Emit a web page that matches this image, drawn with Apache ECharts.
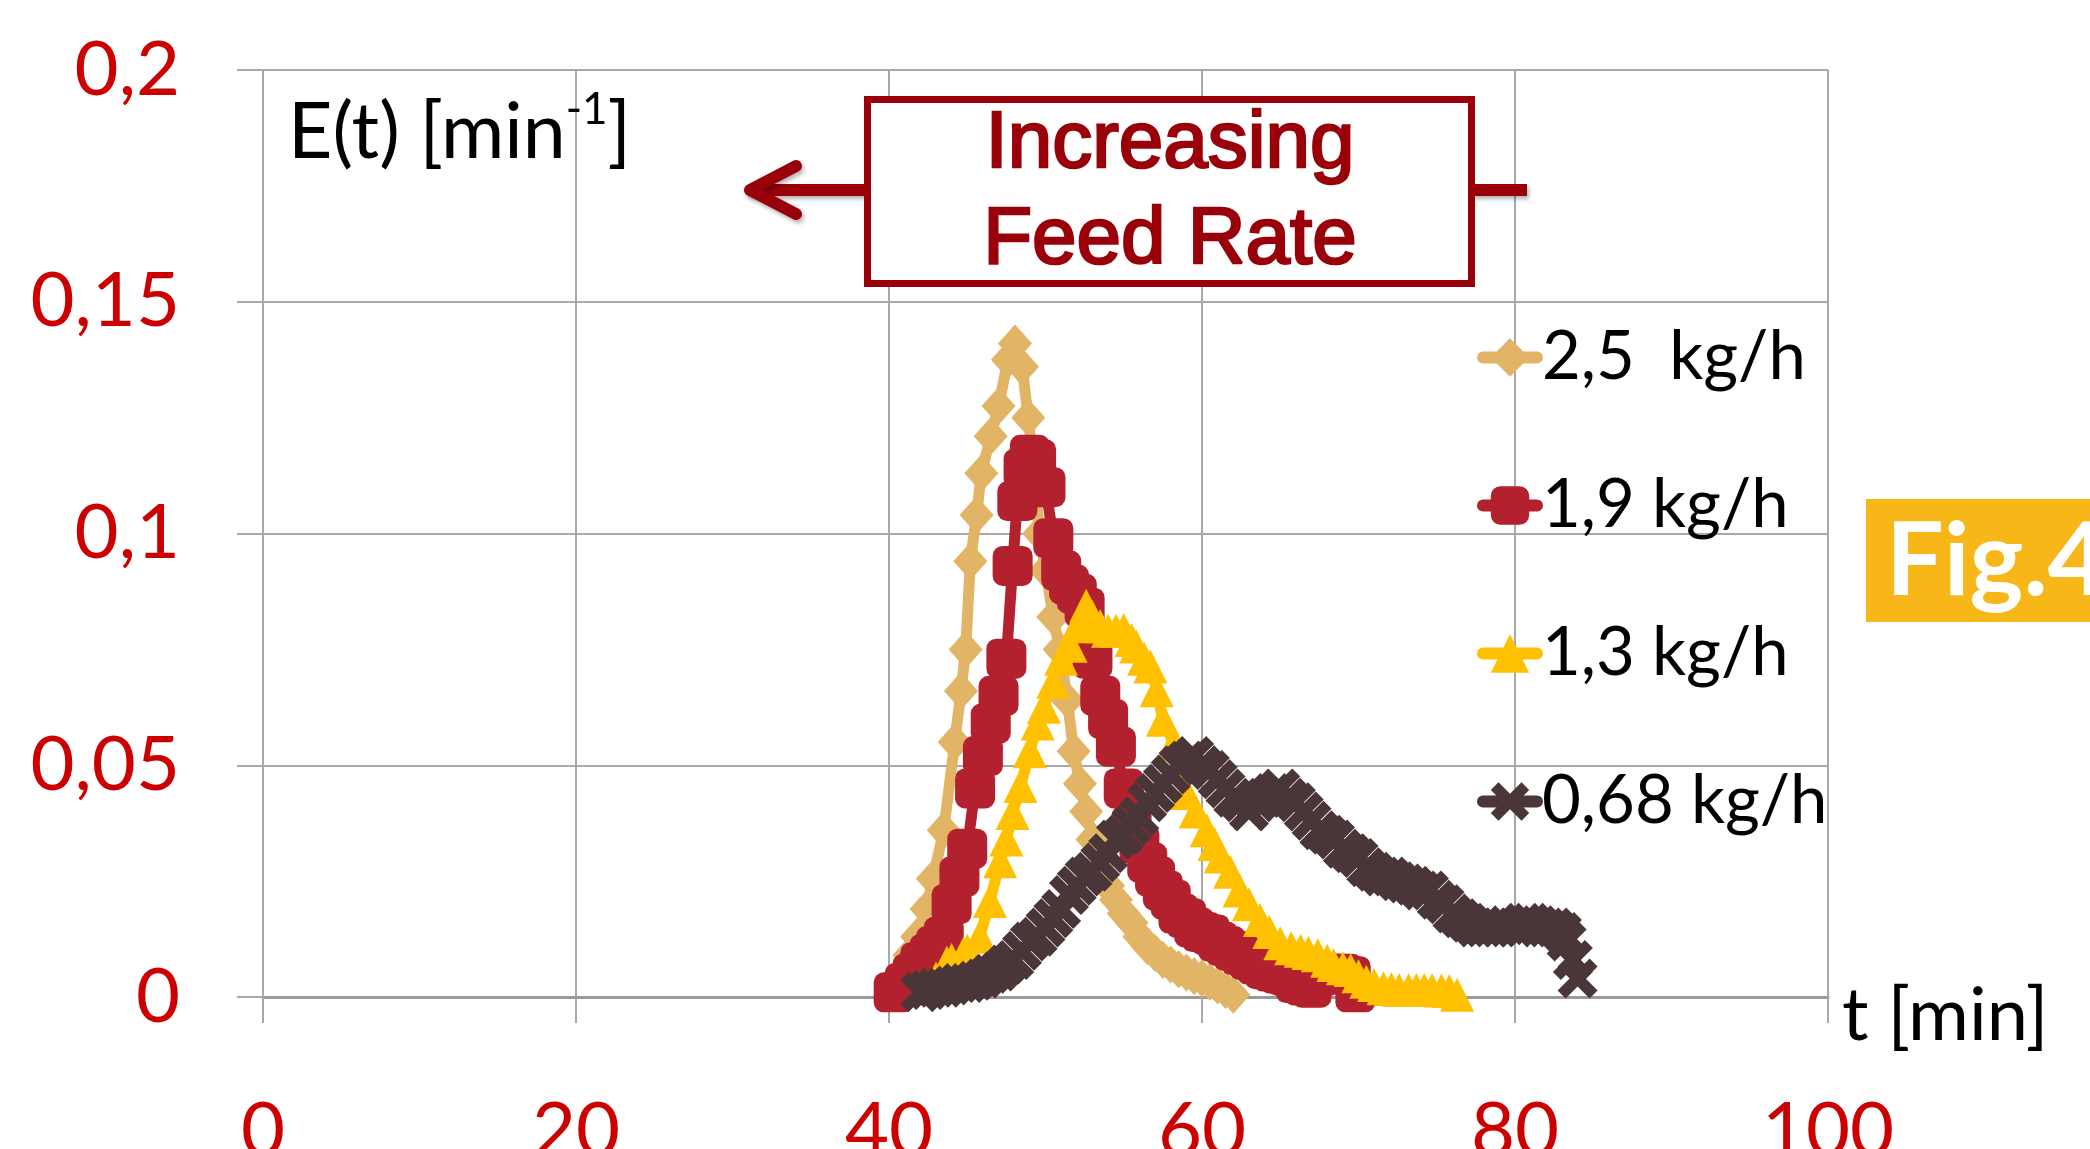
<!DOCTYPE html>
<html>
<head>
<meta charset="utf-8">
<script src="https://cdn.jsdelivr.net/npm/echarts@6/dist/echarts.min.js"></script>
<style>
html,body{margin:0;padding:0;background:#fff;overflow:hidden;}
#chart{width:2090px;height:1149px;}
</style>
</head>
<body>
<div id="chart"></div>
<script>
// ---- data ----
const seriesNames = ['2,5  kg/h', '1,9 kg/h', '1,3 kg/h', '0,68 kg/h'];
const xTickLabels = ['0', '20', '40', '60', '80', '100'];
const yTickLabels = ['0', '0,05', '0,1', '0,15', '0,2'];

const t25 = [40.8,41.3,41.8,42.4,42.8,43.5,44.2,44.6,44.9,45.2,45.6,45.9,46.5,47.0,47.6,48.05,48.5,48.9,49.3,49.6,50.0,50.5,50.9,51.4,51.8,52.2,52.6,53.0,53.5,54.0,54.5,55.0,55.5,56.0,56.5,57.0,57.5,58.0,58.5,59.0,59.5,60.0,60.5,61.0,61.5,62.0];
const e25 = [0.004,0.009,0.013,0.019,0.0255,0.036,0.055,0.066,0.075,0.094,0.104,0.113,0.121,0.1275,0.1375,0.141,0.136,0.125,0.112,0.100,0.092,0.082,0.075,0.064,0.053,0.046,0.040,0.034,0.029,0.024,0.021,0.018,0.016,0.013,0.011,0.0095,0.008,0.007,0.006,0.0053,0.0045,0.004,0.0033,0.0025,0.0015,0.0005];

const t19 = [40.3,41.0,41.5,42.0,42.6,43.0,43.5,44.0,44.5,45.0,45.5,46.0,46.5,47.0,47.5,47.9,48.2,48.6,49.0,49.4,50.0,50.5,51.0,51.5,52.0,52.5,53.0,53.5,54.0,54.5,55.0,55.5,56.0,56.5,57.0,57.5,58.0,58.5,59.0,59.5,60.0,60.5,61.0,61.5,62.0,62.5,63.0,63.5,64.0,64.5,65.0,65.5,66.0,66.5,67.0,67.5,68.0,68.5,69.0,69.5,69.8];
const e19 = [0.001,0.003,0.005,0.0075,0.0093,0.011,0.013,0.020,0.026,0.032,0.045,0.052,0.059,0.065,0.073,0.093,0.107,0.114,0.117,0.116,0.110,0.099,0.092,0.089,0.087,0.084,0.073,0.065,0.060,0.054,0.045,0.037,0.033,0.029,0.026,0.023,0.021,0.018,0.017,0.015,0.014,0.0135,0.012,0.011,0.010,0.009,0.008,0.007,0.006,0.0055,0.005,0.0045,0.003,0.0025,0.002,0.0045,0.005,0.005,0.005,0.0045,0.001];

const t13 = [42.5,43.0,43.7,44.0,44.75,45.0,45.8,46.45,47.1,47.5,47.9,48.4,49.0,49.5,49.9,50.5,51.0,51.6,52.0,52.6,53.0,53.5,54.0,54.5,55.0,55.5,55.8,56.3,56.7,57.1,57.5,58.2,58.6,59.0,59.6,60.3,60.8,61.2,61.8,62.4,63.0,63.7,64.3,65.0,65.7,66.3,66.8,67.4,68.0,68.4,69.0,69.5,70.0,70.5,71.0,71.6,72.1,72.6,73.2,73.7,74.2,74.7,75.3,75.8,76.3];
const e13 = [0.002,0.004,0.0074,0.008,0.0093,0.010,0.013,0.0207,0.0293,0.034,0.0397,0.0455,0.053,0.059,0.0626,0.068,0.073,0.0758,0.080,0.0844,0.082,0.080,0.079,0.079,0.0792,0.077,0.0756,0.073,0.0713,0.0662,0.0598,0.0547,0.050,0.044,0.040,0.036,0.033,0.0303,0.027,0.023,0.020,0.0166,0.014,0.0116,0.0105,0.010,0.0095,0.009,0.0078,0.0069,0.0062,0.0058,0.0045,0.0033,0.0026,0.0019,0.0017,0.0015,0.0015,0.0015,0.0015,0.0015,0.0014,0.0013,0.0005];

const t068 = [42.0,42.5,43.0,43.5,44.0,44.5,45.0,45.5,46.0,46.5,47.0,47.5,48.0,48.5,49.0,49.5,50.0,50.5,51.0,51.5,52.0,52.5,53.0,53.5,54.0,54.5,55.0,55.5,56.0,56.5,57.0,57.5,58.0,58.5,59.0,59.5,60.0,60.5,61.0,61.5,62.0,62.5,63.0,63.5,64.0,64.5,65.0,65.5,66.0,66.5,67.0,67.5,68.0,68.5,69.0,69.5,70.0,70.5,71.0,71.5,72.0,72.5,73.0,73.5,74.0,74.5,75.0,75.5,76.0,76.5,77.0,77.5,78.0,78.5,79.0,79.5,80.0,80.5,81.0,81.5,82.0,82.5,83.0,83.3,83.7,84.0];
const e068 = [0.001,0.0015,0.002,0.002,0.0025,0.003,0.003,0.0035,0.004,0.005,0.0055,0.007,0.008,0.010,0.012,0.013,0.015,0.017,0.019,0.022,0.024,0.026,0.027,0.029,0.031,0.034,0.035,0.037,0.039,0.042,0.044,0.046,0.048,0.050,0.051,0.052,0.050,0.049,0.047,0.045,0.043,0.042,0.040,0.042,0.043,0.044,0.045,0.043,0.042,0.040,0.038,0.036,0.035,0.034,0.032,0.031,0.030,0.028,0.027,0.026,0.026,0.025,0.0245,0.024,0.023,0.023,0.021,0.020,0.018,0.017,0.016,0.015,0.015,0.015,0.015,0.0155,0.015,0.016,0.016,0.0155,0.015,0.015,0.014,0.012,0.008,0.004];

const pairs = (xs, ys) => xs.map((x, i) => [x, ys[i]]);

const colors = ['#E2B465', '#B3212E', '#FFC000', '#4A3638'];
const xSymbol = 'path://M0.2,0 L0.5,0.3 L0.8,0 L1,0.2 L0.7,0.5 L1,0.8 L0.8,1 L0.5,0.7 L0.2,1 L0,0.8 L0.3,0.5 L0,0.2 Z';
const symbols = ['diamond', 'roundRect', 'triangle', xSymbol];
const symSizes = [[34, 38], 40, 34, 40];
const datasets = [pairs(t25, e25), pairs(t19, e19), pairs(t13, e13), pairs(t068, e068)];

const tickFont = 'Lato, "Open Sans", sans-serif';
const gridGray = '#a8a8a8';
const annoRed = '#9A000A';

const chart = echarts.init(document.getElementById('chart'), null, {renderer: 'canvas'});
chart.setOption({
  backgroundColor: '#ffffff',
  animation: false,
  grid: {left: 263, right: 262, top: 70, bottom: 152, containLabel: false, outerBoundsMode: 'none'},
  xAxis: {
    type: 'value', min: 0, max: 100, interval: 20,
    axisLine: {show: true, onZero: false, lineStyle: {color: '#9a9a9a', width: 3}},
    axisTick: {show: true, length: 26, lineStyle: {color: gridGray, width: 2}},
    splitLine: {show: true, lineStyle: {color: gridGray, width: 2}},
    axisLabel: {
      color: '#CC0000', fontFamily: tickFont, fontSize: 76, margin: 96,
      formatter: v => xTickLabels[Math.round(v / 20)]
    }
  },
  yAxis: {
    type: 'value', min: 0, max: 0.2, interval: 0.05,
    axisLine: {show: true, lineStyle: {color: gridGray, width: 2}},
    axisTick: {show: true, length: 26, lineStyle: {color: gridGray, width: 2}},
    splitLine: {show: true, lineStyle: {color: gridGray, width: 2}},
    axisLabel: {
      color: '#CC0000', fontFamily: tickFont, fontSize: 76, margin: 83,
      formatter: v => yTickLabels[Math.round(v / 0.05)]
    }
  },
  legend: {
    orient: 'vertical', left: 1472, top: 319,
    itemWidth: 54, itemHeight: 48, itemGap: 81,
    data: seriesNames,
    lineStyle: {width: 12, cap: 'round'},
    textStyle: {fontFamily: tickFont, fontSize: 67, color: '#000'}
  },
  series: seriesNames.map((name, i) => ({
    name: name, type: 'line', data: datasets[i],
    symbol: symbols[i], symbolSize: symSizes[i], showAllSymbol: true,
    color: colors[i],
    itemStyle: {color: colors[i], opacity: 1},
    lineStyle: {color: colors[i], width: 11, cap: 'round', join: 'round'},
    emphasis: {disabled: true}
  })),
  graphic: [
    {type: 'text', left: 288, top: 82, z: 10,
      style: {
        text: '{a|E(t) [min}{s|-1}{a|]}',
        rich: {
          a: {fontFamily: tickFont, fontSize: 77, lineHeight: 90, fill: '#000', verticalAlign: 'bottom'},
          s: {fontFamily: tickFont, fontSize: 44, lineHeight: 90, fill: '#000', verticalAlign: 'top', padding: [6, 0, 0, 0]}
        }
      }},
    {type: 'text', x: 1842, y: 1016, z: 10,
      style: {text: 't [min]', fontFamily: tickFont, fontSize: 74, fill: '#000', verticalAlign: 'middle'}},
    // arrow
    {type: 'line', z: 20, shape: {x1: 868, y1: 190, x2: 752, y2: 190},
      style: {stroke: annoRed, lineWidth: 12, lineCap: 'round', shadowColor: 'rgba(0,0,0,0.3)', shadowBlur: 4, shadowOffsetX: 2, shadowOffsetY: 3}},
    {type: 'polyline', z: 20, shape: {points: [[796, 166], [750, 190], [796, 214]]},
      style: {stroke: annoRed, fill: null, lineWidth: 12, lineCap: 'round', lineJoin: 'round', shadowColor: 'rgba(0,0,0,0.3)', shadowBlur: 4, shadowOffsetX: 2, shadowOffsetY: 3}},
    {type: 'line', z: 20, shape: {x1: 1470, y1: 190, x2: 1527, y2: 190},
      style: {stroke: annoRed, lineWidth: 12, lineCap: 'butt', shadowColor: 'rgba(0,0,0,0.3)', shadowBlur: 4, shadowOffsetX: 2, shadowOffsetY: 3}},
    {type: 'rect', z: 21, shape: {x: 867.5, y: 99.5, width: 604, height: 184},
      style: {fill: '#fff', stroke: annoRed, lineWidth: 7}},
    {type: 'text', z: 22, x: 1170, y: 145,
      style: {text: 'Increasing', fontFamily: '"Liberation Sans", Arial, sans-serif', fontSize: 80, fill: annoRed,
        stroke: annoRed, lineWidth: 2.5, align: 'center', verticalAlign: 'middle'}},
    {type: 'text', z: 22, x: 1170, y: 241,
      style: {text: 'Feed Rate', fontFamily: '"Liberation Sans", Arial, sans-serif', fontSize: 80, fill: annoRed,
        stroke: annoRed, lineWidth: 2.5, align: 'center', verticalAlign: 'middle'}},
    // Fig.4 tag
    {type: 'rect', z: 10, shape: {x: 1866, y: 499, width: 230, height: 123}, style: {fill: '#F7B718'}},
    {type: 'text', z: 11, x: 1886, y: 562,
      style: {text: 'Fig.4', fontFamily: tickFont, fontWeight: 'bold', fontSize: 102, fill: '#fff', verticalAlign: 'middle'}}
  ]
});
</script>
</body>
</html>
